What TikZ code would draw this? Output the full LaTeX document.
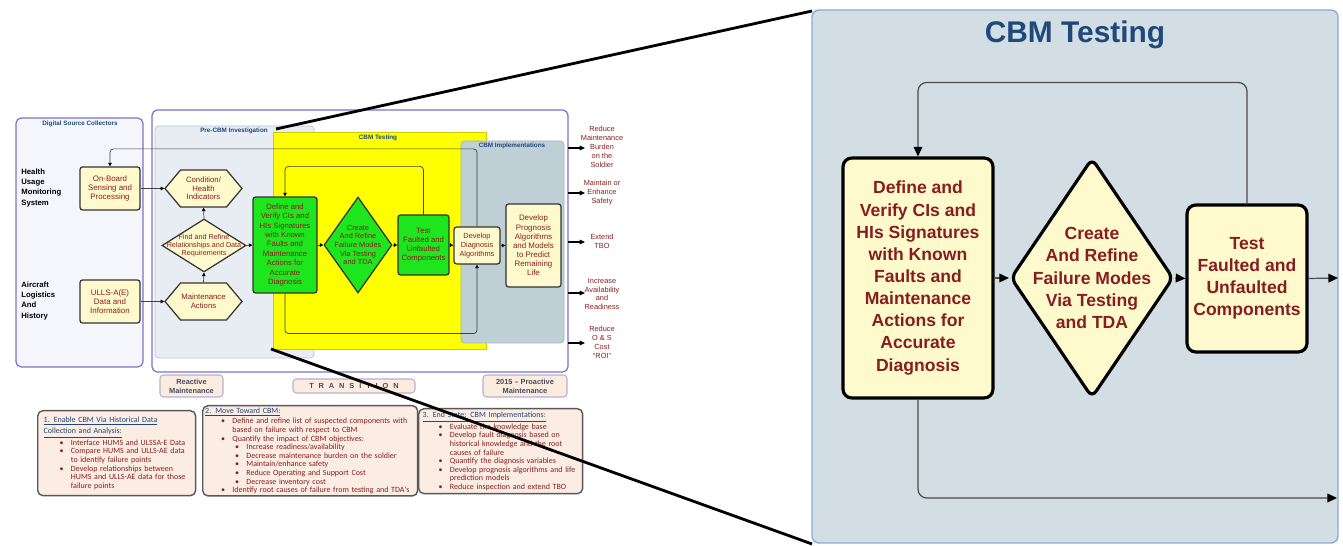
\documentclass[tikz,border=0pt]{standalone}
\usepackage{fontspec}
\setmainfont{Liberation Sans}
\newfontfamily\notefont{Carlito}
\usetikzlibrary{shapes.geometric,shapes.symbols,arrows.meta}

\definecolor{txtred}{RGB}{135,30,30}
\definecolor{ttlblue}{RGB}{31,73,125}
\definecolor{cream}{RGB}{255,250,205}
\definecolor{boxgreen}{RGB}{30,230,30}
\definecolor{cbmyellow}{RGB}{255,255,0}
\definecolor{framepurple}{RGB}{125,115,200}
\definecolor{srcfill}{RGB}{244,246,251}
\definecolor{prefill}{RGB}{232,237,243}
\definecolor{preline}{RGB}{185,195,215}
\definecolor{implfill}{RGB}{190,207,214}
\definecolor{implline}{RGB}{160,182,197}
\definecolor{panelfill}{RGB}{210,222,228}
\definecolor{panelline}{RGB}{140,170,215}
\definecolor{notefill}{RGB}{251,236,228}
\definecolor{tagfill}{RGB}{252,236,222}
\definecolor{tagline}{RGB}{180,175,215}
\definecolor{tagtext}{RGB}{70,75,100}

\newcommand\itemdot{\hspace*{9pt}\makebox[6.5pt][l]{\textbullet}}
\newcommand\subdot{\hspace*{17pt}\makebox[6.5pt][l]{\textbullet}}
\newcommand\itemcont{\hspace*{15.5pt}}
\newcommand\lsp{\hspace{2.8pt}}

\tikzset{
  frame/.style={draw=framepurple, line width=0.7pt, rounded corners=3pt},
  ttl/.style={font=\bfseries\fontsize{3.6}{4}\selectfont, text=ttlblue, inner sep=0pt},
  srclbl/.style={font=\bfseries\fontsize{4.4}{5.7}\selectfont, align=left, inner sep=0pt},
  src/.style={draw=black!80, fill=cream, line width=0.7pt, rounded corners=1.5pt,
    text=txtred, align=center, inner sep=0pt, font=\fontsize{4.5}{5.3}\selectfont},
  gbox/.style={src, fill=boxgreen, font=\fontsize{4.4}{5.4}\selectfont},
  hexa/.style={signal, signal to=east and west, signal pointer angle=100,
    draw=black!80, fill=cream, line width=0.7pt, text=txtred, align=center,
    inner sep=0pt, font=\fontsize{4.4}{4.9}\selectfont},
  ldia/.style={diamond, draw=black!80, fill=cream, line width=0.7pt, inner sep=0pt},
  ldiatxt/.style={text=txtred, align=center, inner sep=0pt, font=\fontsize{4.1}{4.5}\selectfont},
  lline/.style={draw=black!75, line width=0.4pt},
  outlbl/.style={text=txtred, align=center, inner sep=0pt, font=\fontsize{4.2}{5.1}\selectfont},
  tag/.style={draw=tagline, fill=tagfill, line width=0.6pt, rounded corners=2pt,
    text=tagtext, align=center, inner sep=0pt, font=\bfseries\fontsize{4.2}{5}\selectfont},
  note/.style={draw=black!65, fill=notefill, line width=0.8pt, rounded corners=3pt,
    text=txtred, align=left, anchor=north west, inner ysep=1pt,
    font=\notefont\fontsize{4.55}{4.9}\selectfont},
  rbox/.style={draw=black, fill=cream, line width=1.8pt, rounded corners=5pt,
    text=txtred, align=center, inner sep=0pt, font=\bfseries\fontsize{10}{12.6}\selectfont},
  rdia/.style={diamond, draw=black, fill=cream, line width=1.8pt, rounded corners=4pt, inner sep=0pt},
  rdiatxt/.style={text=txtred, align=center, inner sep=0pt, font=\bfseries\fontsize{10}{12.6}\selectfont},
  rline/.style={draw=black!70, line width=0.7pt},
  zoomline/.style={draw=black, line width=1.6pt}
}

\begin{document}
\begin{tikzpicture}[x=0.02cm,y=-0.02cm,>={Triangle[length=2pt,width=2pt,color=black]}]
\useasboundingbox (0,0) rectangle (1343,546);

% ---- overview: frames
\draw[frame, fill=srcfill] (16,118) rectangle (143,367);
\draw[frame, fill=white] (152,110) rectangle (568,372);
\draw[draw=preline, fill=prefill, rounded corners=2pt] (155,126) rectangle (314,358);
\draw[draw=cbmyellow!80!black, line width=0.3pt, fill=cbmyellow] (273,132) rectangle (486,349);
\draw[draw=implline, fill=implfill, rounded corners=2pt] (461,141) rectangle (564,343);

\node[ttl] (srcttl) at (80,124) {Digital Source Collectors};
\node[ttl] (prettl) at (234,131) {Pre-CBM Investigation};
\node[ttl] (tstttl) at (378,138) {CBM Testing};
\node[ttl] (impttl) at (512,146) {CBM Implementations};

\node[srclbl, anchor=west] (hums) at (21,188) {Health\\Usage\\Monitoring\\System};
\node[srclbl, anchor=west] (alah) at (21,301) {Aircraft\\Logistics\\And\\History};

% ---- overview: steps
\node[src, minimum width=1.2cm, minimum height=0.86cm] (onboard) at (110,188.5) {On-Board\\Sensing and\\Processing};
\node[src, minimum width=1.2cm, minimum height=0.86cm] (ulls) at (110,301.5) {ULLS-A(E)\\Data and\\Information};
\node[hexa, minimum width=1.54cm, minimum height=0.74cm] (cond) at (203.5,188.5) {Condition/\\Health\\Indicators};
\node[hexa, minimum width=1.54cm, minimum height=0.74cm] (maint) at (203.5,301.5) {Maintenance\\Actions};
\node[ldia, minimum width=1.68cm, minimum height=1.06cm,
  label={[ldiatxt]center:Find and Refine\\Relationships and Data\\Requirements}] (find) at (204,245.5) {};
\node[gbox, minimum width=1.28cm, minimum height=1.92cm] (defL) at (285,245) {Define and\\Verify CIs and\\HIs Signatures\\with Known\\Faults and\\Maintenance\\Actions for\\Accurate\\Diagnosis};
\node[ldia, fill=boxgreen, minimum width=1.36cm, minimum height=1.92cm,
  label={[ldiatxt, font=\fontsize{4.2}{4.9}\selectfont]center:Create\\And Refine\\Failure Modes\\Via Testing\\and TDA}] (diaL) at (358,245) {};
\node[gbox, minimum width=1.02cm, minimum height=1.2cm, font=\fontsize{4.4}{5}\selectfont] (testL) at (423.5,245) {Test\\Faulted and\\Unfaulted\\Components};
\node[src, minimum width=0.92cm, minimum height=0.74cm, font=\fontsize{4.2}{5}\selectfont] (diagL) at (477,245.5) {Develop\\Diagnosis\\Algorithms};
\node[src, minimum width=1.1cm, minimum height=1.66cm, font=\fontsize{4.5}{5.2}\selectfont] (progL) at (533.5,245.5) {Develop\\Prognosis\\Algorithms\\and Models\\to Predict\\Remaining\\Life};

\draw[lline,->] (onboard.east) -- (cond.west);
\draw[lline,->] (ulls.east) -- (maint.west);
\draw[lline,->] (maint.north) -- (find.south);
\draw[lline,->] (find.north) -- (cond.south);
\draw[lline,->] (find.east) -- (defL.west);
\draw[lline,->] (defL.east) -- (diaL.west);
\draw[lline,->] (diaL.east) -- (testL.west);
\draw[lline,->] (testL.east) -- (diagL.west);
\draw[lline,->] (diagL.east) -- (progL.west);
\draw[lline,->,rounded corners=2pt] (testL.north) -- ++(0,-48) -| (defL.north);
\draw[lline,->,rounded corners=2pt] (defL.south) -- ++(0,40) -| (diagL.south);
\draw[lline,->,rounded corners=2pt] (diagL.north) -- ++(0,-77.5) -| (onboard.north);

% ---- overview: outcomes
\foreach \yy/\nm in {148/1,193/2,242/3,293/4,343/5}{
  \coordinate (oa\nm) at (568,\yy);
  \coordinate (ob\nm) at (585,\yy);
  \draw[draw=black, line width=0.6pt, ->, >={Triangle[length=3pt,width=2.6pt]}] (oa\nm) -- (ob\nm);
}
\node[outlbl] (out1) at (602,147) {Reduce\\Maintenance\\Burden\\on the\\Soldier};
\node[outlbl] (out2) at (602,193) {Maintain or\\Enhance\\Safety};
\node[outlbl] (out3) at (602,241) {Extend\\TBO};
\node[outlbl] (out4) at (602,294) {Increase\\Availability\\and\\Readiness};
\node[outlbl] (out5) at (602,342) {Reduce\\O \& S\\Cost\\``ROI''};

% ---- overview: phases and notes
\node[tag, minimum width=1.26cm, minimum height=0.44cm] (reactive) at (191.5,386) {Reactive\\Maintenance};
\node[tag, minimum width=2.44cm, minimum height=0.28cm] (trans) at (354,386) {T\lsp R\lsp A\lsp N\lsp S\lsp I\lsp T\lsp I\lsp O\lsp N};
\node[tag, minimum width=1.68cm, minimum height=0.44cm] (proact) at (525,386) {2015 -- Proactive\\Maintenance};

\node[note, minimum width=3.16cm, minimum height=1.7cm, inner xsep=0.12cm, text width=2.92cm] (note1) at (37,410) {%
\textcolor{ttlblue}{\underline{1. Enable CBM Via Historical Data}}\\
\textcolor{ttlblue}{\underline{Collection and Analysis:}}\\
\itemdot Interface HUMS and ULSSA-E Data\\
\itemdot Compare HUMS and ULLS-AE data\\
\itemcont to identify failure points\\
\itemdot Develop relationships between\\
\itemcont HUMS and ULLS-AE data for those\\
\itemcont failure points};
\node[note, minimum width=4.3cm, minimum height=1.76cm, inner xsep=0.05cm, text width=4.2cm] (note2) at (202,405) {%
\textcolor{ttlblue}{\underline{2. Move Toward CBM:}}\\
\itemdot Define and refine list of suspected components with\\
\itemcont based on failure with respect to CBM\\
\itemdot Quantify the impact of CBM objectives:\\
\subdot Increase readiness/availability\\
\subdot Decrease maintenance burden on the soldier\\
\subdot Maintain/enhance safety\\
\subdot Reduce Operating and Support Cost\\
\subdot Decrease inventory cost\\
\itemdot Identify root causes of failure from testing and TDA's};
\node[note, minimum width=3.28cm, minimum height=1.7cm, inner xsep=0.08cm, text width=3.12cm] (note3) at (418,408) {%
\textcolor{ttlblue}{\underline{3. End State: CBM Implementations:}}\\
\itemdot Evaluate the knowledge base\\
\itemdot Develop fault diagnosis based on\\
\itemcont historical knowledge and the root\\
\itemcont causes of failure\\
\itemdot Quantify the diagnosis variables\\
\itemdot Develop prognosis algorithms and life\\
\itemcont prediction models\\
\itemdot Reduce inspection and extend TBO};

% ---- detail: CBM Testing
\draw[draw=panelline, fill=panelfill, line width=0.8pt, rounded corners=4pt] (812,10) rectangle (1338,543);
\node[font=\bfseries\fontsize{17}{20}\selectfont, text=ttlblue] (bigttl) at (1075,35) {CBM Testing};

\node[rbox, minimum width=3cm, minimum height=4.8cm] (defR) at (918,278) {Define and\\Verify CIs and\\HIs Signatures\\with Known\\Faults and\\Maintenance\\Actions for\\Accurate\\Diagnosis};
\node[rdia, minimum width=3.26cm, minimum height=4.8cm,
  label={[rdiatxt]center:Create\\And Refine\\Failure Modes\\Via Testing\\and TDA}] (diaR) at (1092,278) {};
\node[rbox, minimum width=2.4cm, minimum height=2.94cm] (testR) at (1247,278.5) {Test\\Faulted and\\Unfaulted\\Components};

\coordinate (outR) at (1338,278);
\coordinate (endR) at (1337,498);
\begin{scope}[>={Triangle[length=5.5pt,width=5pt,color=black]}]
\draw[rline,->] (defR.east) -- (diaR.west);
\draw[rline,->] (diaR.east) -- (testR.west);
\draw[rline,->] (testR.east) -- (outR);
\draw[rline,->,rounded corners=5pt] (testR.north) -- ++(0,-121) -| (defR.north);
\draw[rline,->,rounded corners=5pt] (defR.south) |- (endR);
\end{scope}

% ---- zoom lines
\coordinate (zA) at (276,129);
\coordinate (zB) at (812,11);
\coordinate (zC) at (271,349);
\coordinate (zD) at (812,544);
\draw[zoomline] (zA) -- (zB);
\draw[zoomline] (zC) -- (zD);
\end{tikzpicture}
\end{document}
